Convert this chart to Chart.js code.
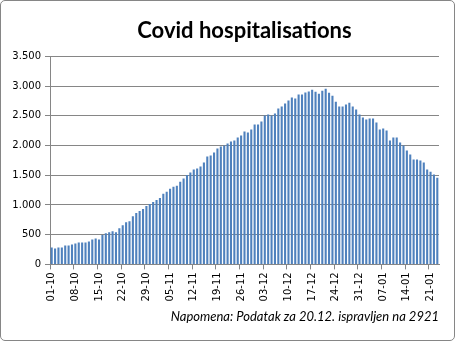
<!DOCTYPE html>
<html>
<head>
<meta charset="utf-8">
<script src="https://cdn.jsdelivr.net/npm/chart.js@4"></script>
<style>
  html, body { margin: 0; padding: 0; background: #fff; }
  #wrap {
    width: 455px; height: 341px; box-sizing: border-box;
    border: 1px solid #868686; border-radius: 5px; overflow: hidden;
  }
</style>
</head>
<body>
<div id="wrap"><canvas id="barChart" width="453" height="339"></canvas></div>
<script>
// daily dates, 01-10 .. 23-01
var october = ["01-10","02-10","03-10","04-10","05-10","06-10","07-10","08-10","09-10","10-10",
  "11-10","12-10","13-10","14-10","15-10","16-10","17-10","18-10","19-10","20-10",
  "21-10","22-10","23-10","24-10","25-10","26-10","27-10","28-10","29-10","30-10","31-10"];
var november = ["01-11","02-11","03-11","04-11","05-11","06-11","07-11","08-11","09-11","10-11",
  "11-11","12-11","13-11","14-11","15-11","16-11","17-11","18-11","19-11","20-11",
  "21-11","22-11","23-11","24-11","25-11","26-11","27-11","28-11","29-11","30-11"];
var december = ["01-12","02-12","03-12","04-12","05-12","06-12","07-12","08-12","09-12","10-12",
  "11-12","12-12","13-12","14-12","15-12","16-12","17-12","18-12","19-12","20-12",
  "21-12","22-12","23-12","24-12","25-12","26-12","27-12","28-12","29-12","30-12","31-12"];
var january = ["01-01","02-01","03-01","04-01","05-01","06-01","07-01","08-01","09-01","10-01",
  "11-01","12-01","13-01","14-01","15-01","16-01","17-01","18-01","19-01","20-01",
  "21-01","22-01","23-01"];
var labels = october.concat(november, december, january);

// hospitalised patients per day
var hospitalised = [
  285, 268, 285, 285, 318, 318, 335, 352, 369, 369, 369, 386, 420, 437, 420, 495,
  523, 540, 557, 540, 608, 659, 710, 727, 812, 864, 898, 932, 983, 1017, 1051,
  1085, 1119, 1187, 1221, 1273, 1307, 1324, 1392, 1444, 1506, 1545, 1596, 1612, 1646, 1714,
  1815, 1832, 1882, 1950, 1983, 2000, 2034, 2068, 2084, 2135, 2169, 2236, 2219, 2270,
  2354, 2354, 2405, 2506, 2523, 2506, 2540, 2624, 2658, 2708, 2759, 2810, 2793, 2860,
  2860, 2894, 2911, 2939, 2906, 2872, 2921, 2956, 2889, 2839, 2739, 2655, 2655, 2689,
  2722, 2655, 2605, 2522, 2472, 2439, 2455, 2455, 2388, 2270, 2286, 2253, 2084, 2135,
  2135, 2050, 2000, 1916, 1848, 1764, 1764, 1747, 1713, 1595, 1561, 1511, 1460
];

var yTicks = [0, 500, 1000, 1500, 2000, 2500, 3000, 3500];

var gray = "#868686";

var ctx = document.getElementById("barChart").getContext("2d");

var barChart = new Chart(ctx, {
  type: "bar",
  data: {
    labels: labels,
    datasets: [
      {
        label: "Hospitalisations",
        data: hospitalised,
        backgroundColor: "#4f81bd",
        barPercentage: 0.62,
        categoryPercentage: 1,
      },
    ],
  },
  options: {
    responsive: false,
    animation: false,
    layout: {
      padding: { left: 5, right: 15, top: 0, bottom: 0 },
    },
    plugins: {
      legend: { display: false },
      tooltip: { enabled: false },
      title: {
        display: true,
        fullSize: false,
        text: "Covid hospitalisations",
        color: "#000",
        font: { family: "Lato", size: 22, weight: "bold" },
        padding: { top: 17, bottom: 12 },
      },
      subtitle: {
        display: true,
        position: "bottom",
        align: "end",
        fullSize: false,
        text: "Napomena: Podatak za 20.12. ispravljen na 2921",
        color: "#000",
        font: { family: "Lato", size: 13, style: "italic" },
        padding: { top: 7, bottom: 15 },
      },
    },
    scales: {
      x: {
        offset: true,
        grid: {
          offset: true,
          drawOnChartArea: false,
          tickLength: 5,
          color: (c) => (c.index % 7 === 0 ? gray : "rgba(0,0,0,0)"),
        },
        border: { color: gray },
        ticks: {
          autoSkip: false,
          maxRotation: 90,
          minRotation: 90,
          padding: 3,
          color: "#000",
          font: { family: "DejaVu Sans", size: 10 },
          callback: function (value, index) {
            return index % 7 === 0 ? labels[index] : "";
          },
        },
        afterFit: function (scale) {
          scale.height = 38;
        },
      },
      y: {
        min: 0,
        max: 3500,
        afterBuildTicks: function (scale) {
          scale.ticks = yTicks.map((v) => ({ value: v }));
        },
        grid: { color: gray, tickLength: 5 },
        border: { color: gray },
        ticks: {
          padding: 4,
          color: "#000",
          font: { family: "DejaVu Sans", size: 10 },
          callback: function (value) {
            return value.toLocaleString("de-DE");
          },
        },
        afterFit: function (scale) {
          scale.width = 44;
        },
      },
    },
  },
});
</script>
</body>
</html>
